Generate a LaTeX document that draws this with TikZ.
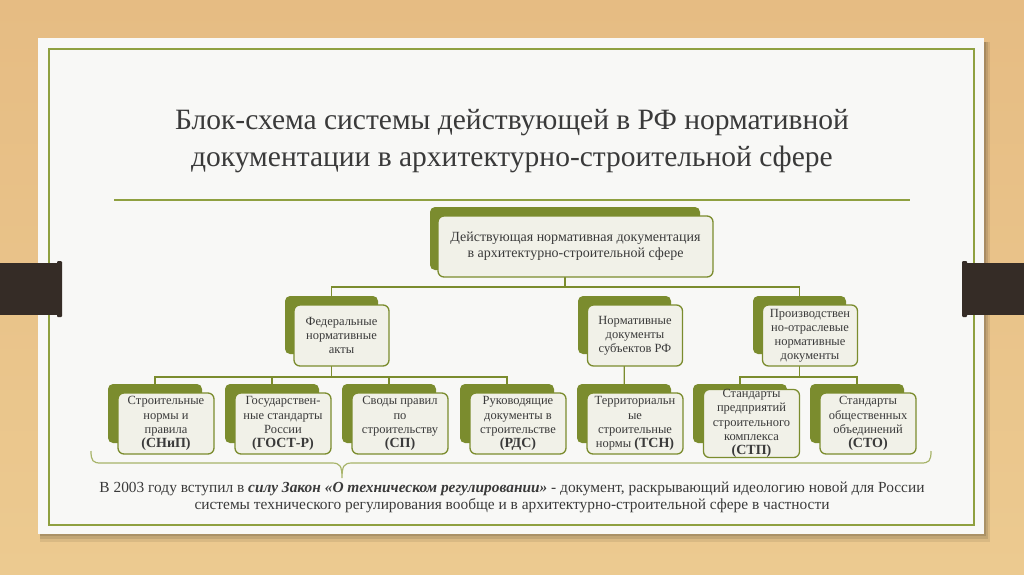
\documentclass[tikz,border=0pt]{standalone}
\usepackage{fontspec}
\setmainfont{Liberation Serif}
\definecolor{wood}{HTML}{E9C48C}
\definecolor{woodtop}{HTML}{E6BC83}
\definecolor{woodbot}{HTML}{ECCA90}
\definecolor{paper}{HTML}{F8F8F6}
\definecolor{olive}{HTML}{7B8C2E}
\definecolor{frameg}{HTML}{8FA040}
\definecolor{cream}{HTML}{F1F1E8}
\definecolor{tabc}{HTML}{352C26}
\definecolor{txt}{HTML}{3A3A3A}
\definecolor{bracec}{HTML}{A8B46A}
\pgfdeclarelayer{bg}\pgfdeclarelayer{conn}
\pgfsetlayers{bg,conn,main}
\begin{document}
\begin{tikzpicture}[x=1pt,y=-1pt,
  backbox/.style={fill=olive, rounded corners=5pt, inner sep=0pt},
  frontbox/.style={draw=olive, line width=1.3pt, fill=cream, rounded corners=6pt, inner sep=0pt, align=center, text=txt},
  conn/.style={draw=olive, line width=1.3pt},
  lthree/.style={font=\fontsize{12.5}{14.2}\selectfont},
  ltwo/.style={font=\fontsize{12.5}{14}\selectfont},
  lone/.style={font=\fontsize{14}{16}\selectfont},
  bw/.style={minimum width=94pt, minimum height=59pt},
  fw/.style={minimum width=96pt, minimum height=61pt},
  par/.style={fontsize=14},
]
\useasboundingbox (0,0) rectangle (1024,574);
\begin{pgfonlayer}{bg}
\shade[top color=woodtop, bottom color=woodbot] (0,0) rectangle (1024,574);
\fill[black, opacity=0.08] (40,42) rectangle (990,542);
\fill[black, opacity=0.10] (40,42) rectangle (988,539);
\fill[black, opacity=0.12] (40,42) rectangle (986,536);
\fill[paper] (38,38) rectangle (984,534);
\draw[frameg, line width=1.2pt] (49,49) rectangle (974,525);
\fill[tabc] (0,263) rectangle (61,315);
\fill[tabc, rounded corners=1pt] (57,261) rectangle (62,317);
\fill[tabc] (963,263) rectangle (1024,315);
\fill[tabc, rounded corners=1pt] (962,261) rectangle (967,317);
\draw[frameg, line width=1.2pt] (114,200) -- (910,200);
\end{pgfonlayer}

\node[font=\fontsize{29.5}{37}\selectfont, text=txt, align=center] (title) at (512,141)
  {Блок-схема системы действующей в РФ нормативной\\документации в архитектурно-строительной сфере};

% level 1
\node[backbox, minimum width=270pt, minimum height=63pt] (topb) at (565,238.5) {};
\node[frontbox, lone, minimum width=275pt, minimum height=61pt] (topf) at (575.5,246.5)
  {Действующая нормативная документация\\в архитектурно-строительной сфере};

% level 2
\node[backbox, minimum width=93pt, minimum height=58pt] (fedb) at (331.5,325) {};
\node[frontbox, ltwo, minimum width=95pt, minimum height=61pt] (fedf) at (341.5,335.5)
  {Федеральные\\нормативные\\акты};
\node[backbox, minimum width=93pt, minimum height=58pt] (subjb) at (624.5,325) {};
\node[frontbox, ltwo, minimum width=95pt, minimum height=61pt] (subjf) at (635,335.5)
  {Нормативные\\документы\\субъектов РФ};
\node[backbox, minimum width=93pt, minimum height=58pt] (prodb) at (799.5,325) {};
\node[frontbox, ltwo, minimum width=95pt, minimum height=61pt] (prodf) at (810,335.5)
  {Производствен\\но-отраслевые\\нормативные\\документы};

% level 3
\node[backbox, bw] (s1b) at (155,413.5) {};
\node[frontbox, lthree, fw] (s1f) at (166,423.5)
  {Строительные\\нормы и\\правила\\{\fontsize{14}{14}\selectfont\bfseries (СНиП)}};
\node[backbox, bw] (s2b) at (272,413.5) {};
\node[frontbox, lthree, fw] (s2f) at (283,423.5)
  {Государствен-\\ные стандарты\\России\\{\fontsize{14}{14}\selectfont\bfseries (ГОСТ-Р)}};
\node[backbox, bw] (s3b) at (389,413.5) {};
\node[frontbox, lthree, fw] (s3f) at (400,423.5)
  {Своды правил\\по\\строительству\\{\fontsize{14}{14}\selectfont\bfseries (СП)}};
\node[backbox, bw] (s4b) at (507,413.5) {};
\node[frontbox, lthree, fw] (s4f) at (518,423.5)
  {Руководящие\\документы в\\строительстве\\{\fontsize{14}{14}\selectfont\bfseries (РДС)}};
\node[backbox, bw] (s5b) at (624,413.5) {};
\node[frontbox, lthree, fw] (s5f) at (635,423.5)
  {Территориальн\\ые\\строительные\\нормы {\fontsize{14}{14}\selectfont\bfseries (ТСН)}};
\node[backbox, bw] (s6b) at (740,413.5) {};
\node[frontbox, lthree, fw] (s6f) at (751.5,423.5)
  {Стандарты\\предприятий\\строительного\\комплекса\\{\fontsize{14}{14}\selectfont\bfseries (СТП)}};
\node[backbox, bw] (s7b) at (857,413.5) {};
\node[frontbox, lthree, fw] (s7f) at (868,423.5)
  {Стандарты\\общественных\\объединений\\{\fontsize{14}{14}\selectfont\bfseries (СТО)}};

% connectors
\coordinate (busa) at (0,287);
\coordinate (busb) at (0,377);
\begin{pgfonlayer}{conn}
\draw[conn] (topb.center) -- (topb.center |- busa);
\draw[conn] (fedb.center) |- (prodb.center |- busa) -- (prodb.center);
\draw[conn] (subjb.center) -- (s5b.center);
\draw[conn] (fedb.center) -- (fedb.center |- busb);
\draw[conn] (s1b.center) |- (s4b.center |- busb) -- (s4b.center);
\draw[conn] (s2b.center) -- (s2b.center |- busb);
\draw[conn] (s3b.center) -- (s3b.center |- busb);
\draw[conn] (prodb.center) -- (prodb.center |- busb);
\draw[conn] (s6b.center) |- (s7b.center |- busb) -- (s7b.center);
\end{pgfonlayer}

% brace
\draw[bracec, line width=1.2pt] (91,451) .. controls (91,461) and (93,463) .. (101,463) -- (332,463)
  .. controls (340,463) and (342,466) .. (342,478)
  .. controls (342,466) and (344,463) .. (352,463) -- (921,463)
  .. controls (929,463) and (931,461) .. (931,451);

\node[font=\fontsize{15.4}{17}\selectfont, text=txt, align=center] (note) at (512,497.5)
  {В 2003 году вступил в \textbf{\textit{силу Закон «О техническом регулировании»}} - документ, раскрывающий идеологию новой для России\\системы технического регулирования вообще и в архитектурно-строительной сфере в частности};
\end{tikzpicture}
\end{document}
